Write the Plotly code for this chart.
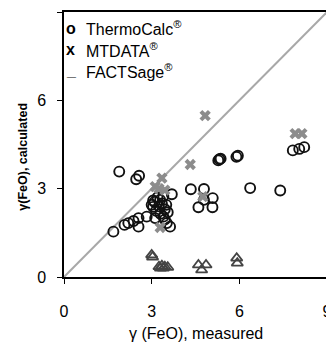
import plotly.graph_objects as go

# ThermoCalc (open circles)
tc_x = [1.69, 1.89, 2.47, 2.57, 2.07, 2.20, 2.38, 2.55, 2.55, 2.83, 3.12, 3.40, 3.52, 3.63, 3.69,
        3.05, 3.29, 3.00, 3.10, 3.20, 3.35, 3.45, 3.15, 3.25, 3.40, 3.55, 3.50, 3.30, 3.05, 3.45,
        4.34, 4.79, 5.09, 4.60, 5.08, 4.79, 5.32, 5.28, 5.36, 5.95, 5.90, 6.37, 7.40, 7.83, 8.05, 8.22]
tc_y = [1.54, 3.58, 3.32, 3.44, 1.77, 1.83, 1.90, 2.00, 1.71, 2.05, 2.00, 2.05, 1.83, 1.71, 2.81,
        2.38, 2.62, 2.45, 2.55, 2.70, 2.50, 2.30, 2.25, 2.40, 2.75, 2.20, 2.45, 2.15, 2.60, 1.95,
        2.98, 2.99, 2.68, 2.37, 2.37, 2.62, 4.00, 3.96, 4.02, 4.12, 4.08, 3.02, 2.94, 4.30, 4.35, 4.41]

# MTDATA (grey crosses)
mt_x = [3.35, 3.12, 3.29, 4.32, 4.83, 7.91, 8.14, 4.75, 3.25, 3.45]
mt_y = [3.36, 3.07, 1.68, 3.82, 5.48, 4.87, 4.87, 2.73, 3.00, 2.95]

# FACTSage (open triangles)
fs_x = [3.00, 3.03, 3.25, 3.35, 3.45, 3.55, 3.30, 3.40, 4.60, 4.86, 4.71, 5.91, 5.93]
fs_y = [0.75, 0.68, 0.35, 0.38, 0.35, 0.33, 0.30, 0.30, 0.41, 0.41, 0.24, 0.64, 0.47]

diag = [0, 9]
ticks = [0, 3, 6, 9]
legend_names = ["ThermoCalc<sup>®</sup>", "MTDATA<sup>®</sup>", "FACTSage<sup>®</sup>"]
legend_syms = ["o", "x", "_"]
legend_y = [8.45, 7.72, 7.0]

FONT = "Liberation Sans, Arial, sans-serif"

fig = go.Figure()
fig.add_trace(go.Scatter(x=diag, y=diag, mode="lines",
                         line=dict(color="#a8a8a8", width=2), hoverinfo="skip"))
fig.add_trace(go.Scatter(x=fs_x, y=fs_y, mode="markers",
                         marker=dict(symbol="triangle-up-open", size=10, color="#444444",
                                     line=dict(color="#444444", width=1.8))))
fig.add_trace(go.Scatter(x=tc_x, y=tc_y, mode="markers",
                         marker=dict(symbol="circle-open", size=10, color="#111111",
                                     line=dict(color="#111111", width=1.9))))
fig.add_trace(go.Scatter(x=mt_x, y=mt_y, mode="markers",
                         marker=dict(symbol="x", size=10, color="#8c8c8c",
                                     line=dict(width=0))))

for s, n, yy in zip(legend_syms, legend_names, legend_y):
    fig.add_annotation(x=0, y=yy, xref="paper", yref="y", text="<b>" + s + "</b>",
                       showarrow=False, xanchor="left", yanchor="middle", xshift=0,
                       font=dict(family=FONT, size=16, color="black"))
    fig.add_annotation(x=0.69, y=yy, xref="x", yref="y", text=n,
                       showarrow=False, xanchor="left", yanchor="middle",
                       font=dict(family=FONT, size=16, color="black"))

fig.add_annotation(x=0.5, y=-0.212, xref="paper", yref="paper", text="γ (FeO), measured",
                   showarrow=False, xanchor="center", yanchor="middle",
                   font=dict(family=FONT, size=16, color="black"))
fig.add_annotation(x=-0.155, y=0.455, xref="paper", yref="paper", text="<b>γ(FeO), calculated</b>",
                   showarrow=False, xanchor="center", yanchor="middle", textangle=-90,
                   font=dict(family=FONT, size=12.5, color="black"))

axis_common = dict(range=[0, 9], tickvals=ticks, ticktext=[str(t) for t in ticks],
                   ticks="outside", ticklen=5, tickwidth=1, tickcolor="black",
                   showline=True, linecolor="black", linewidth=1.5, mirror=True,
                   showgrid=False, zeroline=False, automargin=False,
                   ticklabelposition="outside",
                   tickfont=dict(family=FONT, size=16, color="black"))

fig.update_xaxes(**axis_common, ticklabelstandoff=14)
fig.update_yaxes(**axis_common, ticklabelstandoff=8)

# page body has an 8px margin, so the figure is offset by 8px
fig.update_layout(width=326, height=340, showlegend=False,
                  margin=dict(l=56, r=7, t=4, b=71, autoexpand=False),
                  paper_bgcolor="white", plot_bgcolor="white")

fig.write_html("out.html")
